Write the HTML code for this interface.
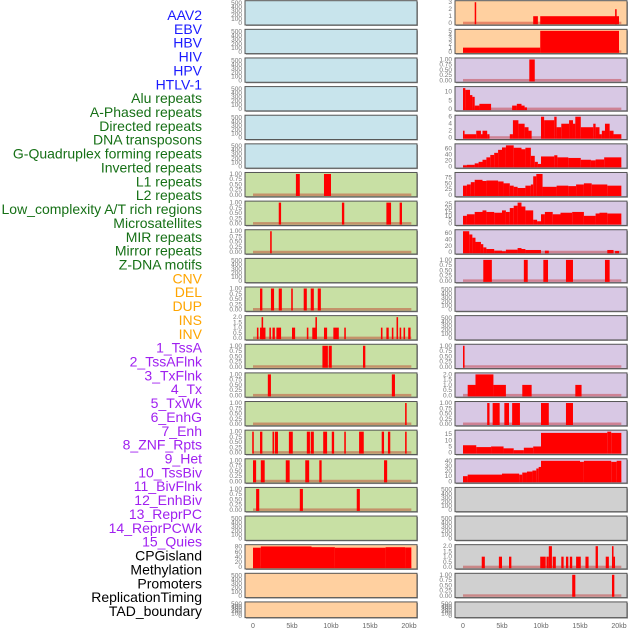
<!DOCTYPE html>
<html><head><meta charset="utf-8">
<style>
html,body{margin:0;padding:0;background:#fff;width:630px;height:630px;overflow:hidden}
svg{display:block;font-family:"Liberation Sans",sans-serif}
</style></head>
<body>
<svg id="chart" width="630" height="630" viewBox="0 0 630 630" xmlns="http://www.w3.org/2000/svg"></svg>
<script>
// ---------- data ----------
const trackLabels = ["AAV2","EBV","HBV","HIV","HPV","HTLV-1","Alu repeats","A-Phased repeats","Directed repeats","DNA transposons","G-Quadruplex forming repeats","Inverted repeats","L1 repeats","L2 repeats","Low_complexity A/T rich regions","Microsatellites","MIR repeats","Mirror repeats","Z-DNA motifs","CNV","DEL","DUP","INS","INV","1_TssA","2_TssAFlnk","3_TxFlnk","4_Tx","5_TxWk","6_EnhG","7_Enh","8_ZNF_Rpts","9_Het","10_TssBiv","11_BivFlnk","12_EnhBiv","13_ReprPC","14_ReprPCWk","15_Quies","CPGisland","Methylation","Promoters","ReplicationTiming","TAD_boundary"];
const labelGroups = [6,13,5,15,5];
const groupColors = ["#1a1aff","#167016","#ffa500","#a020f0","#000000"];
const xTickValues = [0,5,10,15,20];
const xTickLabels = ["0","5kb","10kb","15kb","20kb"];

const ticksCount = ["0","100","200","300","400","500"];
const ticksProb = ["0.00","0.25","0.50","0.75","1.00"];
const ticksTwo = ["0.0","0.5","1.0","1.5","2.0"];

// left column segments [startKb, endKb, value]
const L6 = [[5.5,6.0,1],[9.1,10.0,1]];
const L7 = [[3.3,3.6,1],[11.4,11.7,1],[17.1,17.7,1],[18.8,19.1,1]];
const L8 = [[2.2,2.4,1]];
const L10 = [[0.9,1.2,1],[2.3,2.7,1],[3.3,3.7,1],[4.9,5.1,1],[6.5,6.9,1],[7.4,7.8,1],[8.3,8.7,1]];
const L11 = [[0.5,0.7,1],[0.9,1.6,1],[1.1,1.3,2],[2.1,2.3,1],[2.5,2.8,1],[3.0,3.6,1],[5.0,5.4,1],[6.9,7.1,1],[7.6,8.1,1],[8.0,8.2,2],[9.1,9.5,1],[10.3,11.0,1],[11.7,11.9,1],[16.4,16.6,1],[17.1,17.4,1],[17.8,18.0,1],[18.4,18.6,2],[18.8,19.0,1],[19.3,19.5,1],[19.9,20.2,1]];
const L12 = [[8.9,9.6,1],[9.7,10.1,1],[14.1,14.4,1]];
const L13 = [[1.9,2.3,1],[17.8,18.2,1]];
const L14 = [[19.5,19.7,1]];
const L15 = [[-0.1,0.1,1],[0.9,1.2,1],[2.5,2.7,1],[2.8,3.2,1],[4.6,5.1,1],[6.9,7.3,1],[7.4,7.8,1],[9.0,9.5,1],[10.1,10.4,1],[11.7,11.9,1],[13.6,14.2,1],[16.5,16.8,1],[17.3,17.6,1],[19.5,19.7,1]];
const L16 = [[0.0,0.4,1],[1.0,1.5,1],[4.2,4.7,1],[6.7,7.2,1],[8.5,8.8,1],[16.8,17.2,1]];
const L17 = [[0.4,0.8,1],[6.0,6.4,1],[13.3,13.7,1]];
const L19 = [[0,1,76],[1,7.5,81],[7.5,10.5,78],[10.5,17,76],[17,19.5,78],[19.5,20.3,77]];

// right column segments
const R0 = [[1.5,1.65,3],[9.0,9.6,1],[9.9,20.0,1],[19.5,19.7,2]];
const R1 = [[0,9.9,1],[9.9,20.0,5]];
const R2 = [[8.5,9.2,1]];
const R3 = [[0,0.3,12],[0.3,0.9,11],[0.9,1.2,8],[1.2,1.5,7],[1.5,2.1,2],[2.1,3.6,3],[6.3,6.9,2],[6.9,7.5,3],[7.5,7.9,2],[7.9,8.2,1]];
const R4 = [[0,0.2,2],[0.2,1.7,1],[1.7,2.3,2],[2.3,2.5,1],[2.5,3.1,2],[3.1,3.4,1],[6.0,6.4,1],[6.4,7.1,5],[7.1,7.9,4],[7.9,8.4,3],[8.4,8.8,2],[10.0,10.4,6],[10.4,11.7,5],[11.7,12.0,6],[12.0,12.6,3],[12.6,13.6,4],[13.6,14.1,5],[14.1,14.4,4],[14.4,15.1,6],[15.1,16.7,3],[16.7,17.0,4],[17.0,17.5,3],[17.5,17.8,1],[17.8,18.2,2],[18.2,18.8,4],[18.8,19.3,2],[19.3,20.3,1]];
const R5 = [[0,0.5,3],[0.5,1.5,5],[1.5,2,10],[2,2.5,15],[2.5,3,22],[3,3.5,30],[3.5,4,38],[4,4.5,45],[4.5,5,55],[5,5.5,63],[5.5,6.5,70],[6.5,7.5,62],[7.5,8,57],[8,8.7,62],[8.7,9.2,35],[9.2,9.6,15],[9.6,10,8],[10,11.7,33],[11.7,12.1,37],[12.1,13.5,30],[13.5,15.1,28],[15.1,16.4,22],[16.4,17,20],[17,18.1,23],[18.1,20.3,30]];
const R6 = [[0,0.5,40],[0.5,1,45],[1,1.5,55],[1.5,2.5,65],[2.5,3,60],[3,4.5,62],[4.5,5.2,58],[5.2,6,50],[6,6.5,40],[6.5,7,35],[7,8,30],[8,8.7,40],[8.7,9.0,45],[9.0,9.4,80],[9.4,10.2,90],[10.2,12,35],[12,13.5,40],[13.5,14.5,38],[14.5,15.5,45],[15.5,16.5,50],[16.5,18.5,45],[18.5,20.3,40]];
const R7 = [[0,0.5,10],[0.5,1.5,12],[1.5,2.5,15],[2.5,3,17],[3,4,15],[4,5,14],[5,5.5,17],[5.5,6,15],[6,6.5,20],[6.5,7,23],[7,7.5,27],[7.5,8,22],[8,9,17],[9,9.5,5],[9.5,10,3],[10,10.5,12],[10.5,11.5,15],[11.5,12.5,12],[12.5,14,14],[14,15.5,15],[15.5,17,10],[17,17.5,13],[17.5,18.5,14],[18.5,20.3,13]];
const R8 = [[0,0.8,65],[0.8,1.2,55],[1.2,1.6,45],[1.6,2.3,32],[2.3,2.6,25],[2.6,3,15],[3,4,10],[4,5,5],[5,5.5,3],[5.5,7,8],[7,7.5,13],[7.5,8,10],[8,10,7],[10.5,11,5],[18.5,19.3,7],[19.5,20,4]];
const R9 = [[2.6,3.7,1],[7.8,8.3,1],[10.3,10.9,1],[13.2,14.1,1],[18.2,18.8,1]];
const R12 = [[0,0.2,1]];
const R13 = [[0.6,1.6,1],[1.6,3.9,2],[3.9,5.5,1],[7.6,8.8,1],[14.4,15.2,1]];
const R14 = [[3.1,3.4,1],[3.8,4.7,1],[5.3,5.9,1],[6.3,7.3,1],[10.0,11.0,1],[13.2,14.1,1]];
const R15 = [[0,1.7,6],[1.7,3.6,4.5],[3.6,5.2,5],[5.2,6.5,3.5],[6.5,7.8,2],[7.8,9,4],[9,10,5],[10,18.5,16],[18.5,19,17],[19,20.3,16]];
const R16 = [[0,0.6,10],[0.6,5,13],[5,7.2,15],[7.2,7.6,13],[7.6,8.2,17],[8.2,8.9,19],[8.9,9.4,21],[9.4,9.7,25],[9.7,10,28],[10,15,40],[15,15.5,38],[15.5,19,40],[19,19.7,38],[19.7,20.3,40]];
const R19 = [[2.4,2.8,1],[4.6,5.0,1],[5.9,6.2,1],[9.9,10.6,1],[10.7,11.0,1],[11.0,11.4,2],[11.5,11.9,1],[12.6,12.9,1],[13.2,13.5,1],[13.7,14.0,1],[14.5,15.1,1],[15.7,16.1,1],[17.0,17.3,2],[18.3,18.7,1],[19.1,19.3,2],[19.3,19.45,1]];
const R20 = [[14.0,14.4,1],[19.1,19.4,1]];

const leftBg = ["#c8e4ec","#c8e4ec","#c8e4ec","#c8e4ec","#c8e4ec","#c8e4ec","#c8e0a4","#c8e0a4","#c8e0a4","#c8e0a4","#c8e0a4","#c8e0a4","#c8e0a4","#c8e0a4","#c8e0a4","#c8e0a4","#c8e0a4","#c8e0a4","#c8e0a4","#ffd0a0","#ffd0a0","#ffd0a0"];
const rightBg = ["#ffd0a0","#ffd0a0","#d8c8e4","#d8c8e4","#d8c8e4","#d8c8e4","#d8c8e4","#d8c8e4","#d8c8e4","#d8c8e4","#d8c8e4","#d8c8e4","#d8c8e4","#d8c8e4","#d8c8e4","#d8c8e4","#d8c8e4","#d0d0d0","#d0d0d0","#d0d0d0","#d0d0d0","#d0d0d0"];

// [segments, ymax, tick labels, tick values]
const leftPanels = [
 [null,520,ticksCount,[0,100,200,300,400,500]],[null,520,ticksCount,[0,100,200,300,400,500]],[null,520,ticksCount,[0,100,200,300,400,500]],
 [null,520,ticksCount,[0,100,200,300,400,500]],[null,520,ticksCount,[0,100,200,300,400,500]],[null,520,ticksCount,[0,100,200,300,400,500]],
 [L6,1,ticksProb,[0,0.25,0.5,0.75,1]],[L7,1,ticksProb,[0,0.25,0.5,0.75,1]],[L8,1,ticksProb,[0,0.25,0.5,0.75,1]],
 [null,520,ticksCount,[0,100,200,300,400,500]],[L10,1,ticksProb,[0,0.25,0.5,0.75,1]],[L11,2,ticksTwo,[0,0.5,1,1.5,2]],
 [L12,1,ticksProb,[0,0.25,0.5,0.75,1]],[L13,1,ticksProb,[0,0.25,0.5,0.75,1]],[L14,1,ticksProb,[0,0.25,0.5,0.75,1]],
 [L15,1,ticksProb,[0,0.25,0.5,0.75,1]],[L16,1,ticksProb,[0,0.25,0.5,0.75,1]],[L17,1,ticksProb,[0,0.25,0.5,0.75,1]],
 [null,520,ticksCount,[0,100,200,300,400,500]],[L19,82,["0","20","40","60","80"],[0,20,40,60,80]],
 [null,520,ticksCount,[0,100,200,300,400,500]],[null,520,ticksCount,[0,100,200,300,400,500]]
];
const rightPanels = [
 [R0,3,["0","1","2","3"],[0,1,2,3]],[R1,5,["0","1","2","3","4","5"],[0,1,2,3,4,5]],[R2,1,ticksProb,[0,0.25,0.5,0.75,1]],
 [R3,12,["0","5","10"],[0,5,10]],[R4,6,["0","2","4","6"],[0,2,4,6]],[R5,70,["0","20","40","60"],[0,20,40,60]],
 [R6,90,["0","25","50","75"],[0,25,50,75]],[R7,27,["0","5","10","15","20","25"],[0,5,10,15,20,25]],[R8,65,["0","20","40","60"],[0,20,40,60]],
 [R9,1,ticksProb,[0,0.25,0.5,0.75,1]],[null,520,ticksCount,[0,100,200,300,400,500]],[null,520,ticksCount,[0,100,200,300,400,500]],
 [R12,1,ticksProb,[0,0.25,0.5,0.75,1]],[R13,2,ticksTwo,[0,0.5,1,1.5,2]],[R14,1,ticksProb,[0,0.25,0.5,0.75,1]],
 [R15,17,["0","5","10","15"],[0,5,10,15]],[R16,41,["0","10","20","30","40"],[0,10,20,30,40]],
 [null,520,ticksCount,[0,100,200,300,400,500]],[null,520,ticksCount,[0,100,200,300,400,500]],
 [R19,2,ticksTwo,[0,0.5,1,1.5,2]],[R20,1,ticksProb,[0,0.25,0.5,0.75,1]],[null,520,ticksCount,[0,100,200,300,400,500]]
];

// ---------- drawing ----------
const NS = "http://www.w3.org/2000/svg";
const svg = document.getElementById("chart");
function mk(tag, attrs, parent){
  const e = document.createElementNS(NS, tag);
  for (const k in attrs) e.setAttribute(k, attrs[k]);
  (parent||svg).appendChild(e);
  return e;
}
const colX = [245, 455];
const colW = 172;
const kbZero = [253, 463];
const pxPerKb = 7.8;
function xScale(kb, col){ return kbZero[col] + kb*pxPerKb; }
function rowTop(i){ return 0.7 + i*28.63; }
function rowH(i){ return i===21 ? 15.7 : 24.3; }

// labels
let li = 0;
labelGroups.forEach((n, g) => {
  for (let k=0;k<n;k++){
    const t = mk("text",{x:202,y:(20+li*13.86).toFixed(1),"text-anchor":"end","font-size":"14",fill:groupColors[g]});
    
    
    t.textContent = trackLabels[li];
    li++;
  }
});

function drawPanel(col, i, p){
  const [segs, ymax, tlabels, tvals] = p;
  const top = rowTop(i), h = rowH(i);
  const g = mk("g",{});
  
  
  mk("rect",{x:colX[col]+1,y:top+1,width:colW,height:h,fill:"#999"},g);
  mk("rect",{x:colX[col],y:top,width:colW,height:h,fill:(col?rightBg:leftBg)[i],stroke:"#555","stroke-width":"1"},g);
  const yb = top + h - 1.8, yt = top + 1.5;
  const yS = v => yb - v/ymax*(yb-yt);
  tvals.forEach((v,k)=>{
    const t = mk("text",{x:colX[col]-3,y:(yS(v)+2).toFixed(1),"text-anchor":"end","font-size":"6.5",fill:"#777"},g);
    
    
    t.textContent = tlabels[k];
  });
  if (segs){
    mk("rect",{x:xScale(0,col),y:yb-1.5,width:xScale(20.3,col)-xScale(0,col),height:2.5,fill:"rgba(190,0,0,0.35)"},g);
    segs.forEach(s=>{
      const x0 = xScale(s[0],col), x1 = xScale(s[1],col);
      const r = mk("rect",{x:x0.toFixed(2),y:yS(s[2]).toFixed(2),width:Math.max(1.5,x1-x0).toFixed(2),height:(yb-yS(s[2])+1).toFixed(2),fill:"#ff0000"},g);
      
      
    });
  }
}
leftPanels.forEach((p,i)=>drawPanel(0,i,p));
rightPanels.forEach((p,i)=>drawPanel(1,i,p));

// x axis ticks
[0,1].forEach(col=>{
  xTickValues.forEach((v,k)=>{
    const t = mk("text",{x:xScale(v,col).toFixed(1),y:628,"text-anchor":"middle","font-size":"7",fill:"#666"});
    
    
    t.textContent = xTickLabels[k];
  });
});
</script>
</body></html>
